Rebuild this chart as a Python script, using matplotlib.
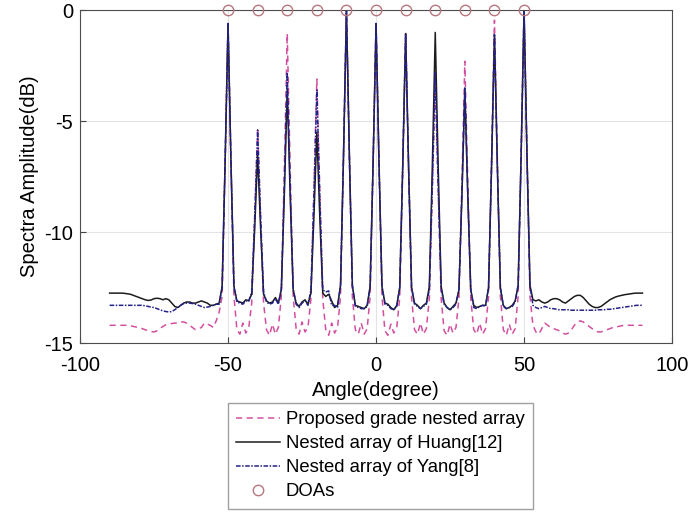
import matplotlib
matplotlib.use("Agg")
import matplotlib.pyplot as plt
import numpy as np

plt.rcParams["font.family"] = ["Liberation Sans", "DejaVu Sans"]
plt.rcParams["axes.unicode_minus"] = False

# Scan grid (degrees), one sample per degree
angles = np.arange(-90, 91)

# Spatial spectrum of the proposed grade nested array (dB)
proposed_db = [
    -14.20, -14.20, -14.20, -14.20, -14.20, -14.20, -14.20, -14.22, -14.25, -14.28,
    -14.30, -14.35, -14.40, -14.45, -14.48, -14.50, -14.45, -14.35, -14.25, -14.18,
    -14.15, -14.12, -14.10, -14.10, -14.05, -14.05, -14.10, -14.20, -14.30, -14.40,
    -14.35, -14.30, -14.10, -14.15, -14.20, -14.30, -14.00, -13.60, -12.90, -7.00,
    -0.60, -7.00, -12.90, -14.40, -14.60, -14.10, -14.55, -14.30, -13.20, -9.40,
    -5.40, -9.40, -13.20, -14.40, -14.65, -14.15, -14.60, -14.30, -12.90, -7.20,
    -1.05, -7.20, -12.90, -14.35, -14.60, -14.05, -14.50, -14.30, -13.00, -8.20,
    -3.10, -8.20, -13.00, -14.40, -14.65, -14.10, -14.55, -14.30, -12.90, -6.65,
    0.00, -6.65, -12.90, -14.40, -14.60, -14.10, -14.60, -14.35, -12.90, -6.95,
    -0.60, -6.95, -12.90, -14.45, -14.65, -14.15, -14.55, -14.30, -12.95, -7.20,
    -1.05, -7.20, -12.95, -14.40, -14.60, -14.10, -14.60, -14.35, -13.00, -8.10,
    -2.90, -8.10, -13.00, -14.45, -14.65, -14.15, -14.55, -14.30, -13.00, -7.80,
    -2.30, -7.80, -13.00, -14.40, -14.60, -14.10, -14.60, -14.35, -12.90, -6.90,
    -0.45, -6.90, -12.90, -14.40, -14.65, -14.15, -14.60, -14.35, -12.90, -6.65,
    0.00, -6.65, -12.90, -14.20, -14.50, -14.60, -14.35, -14.10, -14.20, -14.30,
    -14.35, -14.40, -14.45, -14.55, -14.60, -14.55, -14.40, -14.20, -14.05, -14.00,
    -14.05, -14.15, -14.25, -14.35, -14.45, -14.50, -14.50, -14.45, -14.40, -14.35,
    -14.30, -14.28, -14.25, -14.22, -14.20, -14.20, -14.20, -14.20, -14.20, -14.20,
    -14.20,
]

# Spatial spectrum of the nested array of Huang (dB)
huang_db = [
    -12.75, -12.75, -12.75, -12.75, -12.75, -12.76, -12.78, -12.80, -12.85, -12.90,
    -12.95, -13.00, -13.05, -13.08, -13.06, -13.00, -12.98, -13.00, -13.05, -13.00,
    -13.05, -13.20, -13.35, -13.40, -13.30, -13.20, -13.15, -13.15, -13.20, -13.20,
    -13.15, -13.10, -13.15, -13.20, -13.30, -13.30, -13.25, -13.20, -12.45, -6.90,
    -0.60, -6.90, -12.45, -13.10, -13.15, -13.20, -13.05, -13.10, -12.80, -9.85,
    -6.50, -9.85, -12.80, -13.10, -13.20, -13.15, -12.95, -13.20, -12.60, -8.40,
    -3.60, -8.40, -12.60, -13.20, -13.35, -13.15, -13.05, -13.25, -12.75, -9.35,
    -5.50, -9.35, -12.75, -12.90, -12.80, -13.10, -13.40, -13.30, -12.40, -6.60,
    0.00, -6.60, -12.40, -13.30, -13.35, -13.40, -13.45, -13.30, -12.45, -6.90,
    -0.60, -6.90, -12.45, -13.20, -13.25, -13.40, -13.50, -13.30, -12.50, -7.10,
    -1.05, -7.10, -12.50, -13.20, -13.30, -13.45, -13.30, -13.20, -12.45, -7.10,
    -1.00, -7.10, -12.45, -13.20, -13.40, -13.50, -13.35, -13.20, -12.60, -8.40,
    -3.60, -8.40, -12.60, -13.30, -13.40, -13.35, -13.30, -13.30, -12.50, -7.15,
    -1.10, -7.15, -12.50, -13.30, -13.45, -13.40, -13.30, -13.10, -12.40, -6.60,
    0.00, -6.60, -12.40, -13.05, -13.10, -13.05, -13.15, -13.20, -13.15, -13.05,
    -13.00, -13.00, -13.05, -13.15, -13.20, -13.10, -13.00, -12.90, -12.85, -12.85,
    -12.95, -13.10, -13.25, -13.35, -13.40, -13.40, -13.35, -13.25, -13.15, -13.05,
    -12.98, -12.92, -12.88, -12.85, -12.82, -12.80, -12.78, -12.76, -12.75, -12.75,
    -12.75,
]

# Spatial spectrum of the nested array of Yang (dB)
yang_db = [
    -13.30, -13.30, -13.30, -13.30, -13.30, -13.30, -13.30, -13.30, -13.30, -13.30,
    -13.30, -13.30, -13.32, -13.35, -13.38, -13.40, -13.45, -13.50, -13.55, -13.58,
    -13.60, -13.58, -13.50, -13.40, -13.30, -13.22, -13.20, -13.20, -13.22, -13.25,
    -13.30, -13.35, -13.40, -13.38, -13.35, -13.30, -13.25, -13.25, -12.50, -6.90,
    -0.60, -6.90, -12.50, -13.15, -13.20, -13.25, -13.10, -13.10, -12.70, -9.30,
    -5.40, -9.30, -12.70, -13.15, -13.25, -13.20, -13.00, -13.25, -12.55, -8.00,
    -2.80, -8.00, -12.55, -13.25, -13.40, -13.20, -13.10, -13.30, -12.60, -8.40,
    -3.60, -8.40, -12.60, -12.70, -12.65, -13.30, -13.30, -13.40, -12.40, -6.60,
    0.00, -6.60, -12.40, -13.35, -13.40, -13.45, -13.45, -13.35, -12.45, -6.90,
    -0.60, -6.90, -12.45, -13.25, -13.30, -13.45, -13.50, -13.35, -12.50, -7.10,
    -1.05, -7.10, -12.50, -13.25, -13.35, -13.45, -13.35, -13.25, -12.60, -8.00,
    -2.80, -8.00, -12.55, -13.25, -13.40, -13.50, -13.40, -13.25, -12.60, -8.35,
    -3.50, -8.35, -12.60, -13.40, -13.45, -13.35, -13.30, -13.35, -12.50, -7.15,
    -1.10, -7.15, -12.50, -13.35, -13.45, -13.40, -13.35, -13.15, -12.40, -6.60,
    0.00, -6.60, -12.40, -13.30, -13.40, -13.45, -13.40, -13.35, -13.40, -13.45,
    -13.45, -13.48, -13.50, -13.50, -13.50, -13.50, -13.52, -13.52, -13.52, -13.52,
    -13.52, -13.52, -13.52, -13.52, -13.52, -13.50, -13.50, -13.50, -13.48, -13.48,
    -13.46, -13.44, -13.42, -13.40, -13.38, -13.36, -13.34, -13.32, -13.30, -13.30,
    -13.30,
]

# True directions of arrival
doa_angles = [-50, -40, -30, -20, -10, 0, 10, 20, 30, 40, 50]
doa_db = [0] * len(doa_angles)

fig = plt.figure(figsize=(6.9, 5.12), dpi=100)
ax = fig.add_axes([0.116, 0.330, 0.858, 0.650])

ax.plot(angles, proposed_db, linestyle=(0, (4, 3)), color="#d2509f", linewidth=1.1,
        label="Proposed grade nested array")
ax.plot(angles, huang_db, linestyle="-", color="#1c1c1c", linewidth=1.1,
        label="Nested array of Huang[12]")
ax.plot(angles, yang_db, linestyle=(0, (3, 1, 1, 1)), color="#22228a", linewidth=1.1,
        label="Nested array of Yang[8]")
ax.plot(doa_angles, doa_db, linestyle="none", marker="o", markersize=7.5,
        markerfacecolor="none", markeredgecolor="#b8767f", markeredgewidth=1.0,
        clip_on=False, zorder=5, label="DOAs")

ax.set_xlim(-100, 100)
ax.set_ylim(-15, 0)
ax.set_xticks([-100, -50, 0, 50, 100])
ax.set_yticks([-15, -10, -5, 0])

ax.set_xlabel("Angle(degree)", fontsize=14.5, labelpad=5)
ax.set_ylabel("Spectra Amplitude(dB)", fontsize=14.5, labelpad=4)

# Light grid and inward ticks, boxed axes
ax.grid(True, color="#e3e3e3", linewidth=0.8)
ax.set_axisbelow(True)
ax.tick_params(direction="in", length=4, labelsize=14.5, color="#444444",
               top=False, right=False)
ax.tick_params(axis="x", pad=9)
ax.tick_params(axis="y", pad=5)
for spine in ax.spines.values():
    spine.set_color("#4d4d4d")
    spine.set_linewidth(0.8)

# Legend below the axes
fig.legend(loc="upper center", bbox_to_anchor=(0.551, 0.213), fontsize=13.3,
           frameon=True, fancybox=False, edgecolor="#888888",
           handlelength=2.4, handletextpad=0.3, labelspacing=0.38,
           borderpad=0.45, borderaxespad=0.0)

fig.savefig("out.png", dpi=100)
